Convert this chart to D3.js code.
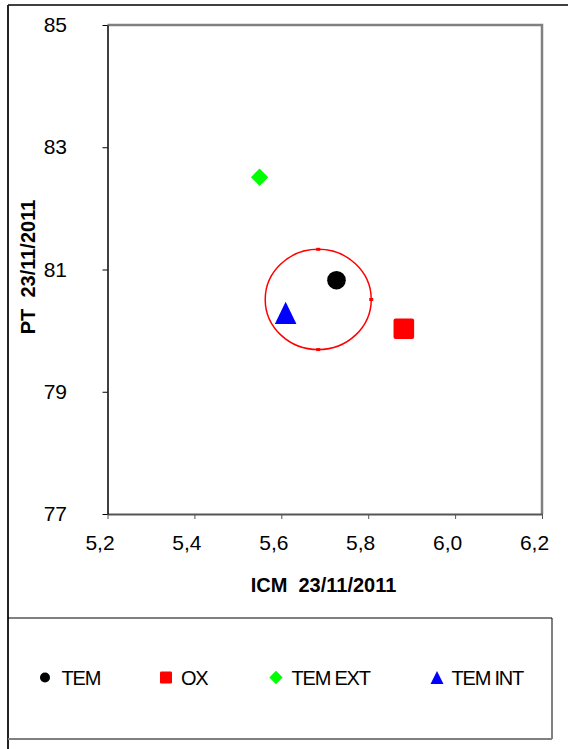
<!DOCTYPE html>
<html><head><meta charset="utf-8">
<script src="https://cdn.jsdelivr.net/npm/d3@7"></script>
<style>body{margin:0;background:#fff}svg{display:block;font-family:"Liberation Sans",Arial,sans-serif}</style>
</head><body><svg id="c" width="568" height="749"></svg>
<script>
const seriesNames = ["TEM", "OX", "TEM EXT", "TEM INT"];
const seriesX = [5.727, 5.882, 5.55, 5.61];
const seriesY = [80.825, 80.03, 82.51, 80.29];
const seriesColors = ["#000000", "#ff0000", "#00ff00", "#0000ff"];
const seriesShapes = ["circle", "square", "diamond", "triangle"];
const xTicks = [5.2, 5.4, 5.6, 5.8, 6.0, 6.2];
const yTicks = [77, 79, 81, 83, 85];
const ellipseCenter = [5.685, 80.51];
const ellipseRadius = [0.122, 0.82];
const xTitle = "ICM  23/11/2011";
const yTitle = "PT  23/11/2011";

const FF = '"Liberation Sans",Arial,sans-serif';
const svg = d3.select("#c");
const L = 107.5, R = 542, T = 25, B = 514;
const x = d3.scaleLinear().domain([5.2, 6.2]).range([L, R]);
const y = d3.scaleLinear().domain([77, 85]).range([B, T]);
const fmt = d => d3.format(".1f")(d).replace(".", ",");

// outer frame
svg.append("line").attr("x1", 8).attr("x2", 568).attr("y1", 5).attr("y2", 5).attr("stroke", "#000").attr("stroke-width", 1.5);
svg.append("line").attr("x1", 8).attr("x2", 8).attr("y1", 5).attr("y2", 749).attr("stroke", "#222").attr("stroke-width", 2);

// plot frame top/right (gray)
svg.append("path").attr("d", `M${L},${T}H${R}V${B}`).attr("fill", "none").attr("stroke", "#808080").attr("stroke-width", 2.5);

// axes
const gx = svg.append("g").attr("transform", `translate(0,${B})`)
  .call(d3.axisBottom(x).tickValues(xTicks).tickFormat(fmt).tickSize(5).tickSizeOuter(0));
gx.select(".domain").attr("stroke", "#555").attr("stroke-width", 2);
gx.selectAll(".tick line").attr("stroke", "#555");
gx.selectAll("text").attr("font-size", 21).attr("fill", "#000").attr("y", 36).attr("dy", 0).attr("x", -8).attr("font-family", FF);

const gy = svg.append("g").attr("transform", `translate(${L},0)`)
  .call(d3.axisLeft(y).tickValues(yTicks).tickFormat(d3.format("d")).tickSize(5).tickSizeOuter(0));
gy.select(".domain").attr("stroke", "#000").attr("stroke-width", 1.5);
gy.selectAll(".tick line").attr("stroke", "#000");
gy.selectAll("text").attr("font-size", 21).attr("fill", "#000").attr("x", -40.5).attr("font-family", FF);

// titles
svg.append("text").attr("x", 323.5).attr("y", 592).attr("text-anchor", "middle").style("white-space", "pre")
  .attr("font-size", 20).attr("font-weight", "bold").text(xTitle);
svg.append("text").attr("transform", `translate(35,267) rotate(-90)`).attr("text-anchor", "middle").style("white-space", "pre")
  .attr("font-size", 20).attr("font-weight", "bold").text(yTitle);

// ellipse
const ecx = x(ellipseCenter[0]), ecy = y(ellipseCenter[1]);
const erx = x(ellipseCenter[0] + ellipseRadius[0]) - ecx;
const ery = ecy - y(ellipseCenter[1] + ellipseRadius[1]);
svg.append("ellipse").attr("cx", ecx).attr("cy", ecy).attr("rx", erx).attr("ry", ery)
  .attr("fill", "none").attr("stroke", "#ff0000").attr("stroke-width", 1.5);
[[0, -1], [0, 1], [1, 0]].forEach(([a, b]) => {
  svg.append("rect").attr("x", ecx + a * erx - 2).attr("y", ecy + b * ery - 1.5).attr("width", 4).attr("height", 3).attr("fill", "#ff0000");
});

function drawMarker(g, shape, color, sx, sy) {
  if (shape === "square") {
    g.append("rect").attr("x", -sx).attr("y", -sy).attr("width", 2 * sx).attr("height", 2 * sy).attr("rx", sx * 0.2).attr("fill", color);
  } else if (shape === "circle") {
    g.append("circle").attr("r", sx).attr("fill", color);
  } else if (shape === "diamond") {
    g.append("path").attr("d", `M0,${-sy}L${sx},0L0,${sy}L${-sx},0Z`).attr("fill", color);
  } else {
    g.append("path").attr("d", `M0,${-sy}L${sx},${sy}L${-sx},${sy}Z`).attr("fill", color);
  }
}
const markerSizes = {circle: [9.3, 9.3], square: [10.3, 10.3], diamond: [8.7, 8.7], triangle: [10.8, 11.2]};
seriesNames.forEach((n, i) => {
  const g = svg.append("g").attr("transform", `translate(${x(seriesX[i])},${y(seriesY[i])})`);
  const s = markerSizes[seriesShapes[i]];
  drawMarker(g, seriesShapes[i], seriesColors[i], s[0], s[1]);
});

// legend
svg.append("line").attr("x1", 8).attr("x2", 552).attr("y1", 618).attr("y2", 618).attr("stroke", "#000").attr("stroke-width", 1);
svg.append("line").attr("x1", 552).attr("x2", 552).attr("y1", 618).attr("y2", 739).attr("stroke", "#000").attr("stroke-width", 1);
svg.append("line").attr("x1", 8).attr("x2", 552).attr("y1", 739).attr("y2", 739).attr("stroke", "#808080").attr("stroke-width", 2);
const legX = [45, 166, 276, 437];
const legTextX = [61.5, 181, 291.5, 451.5];
const legSizes = {circle: [5, 5], square: [6, 6], diamond: [6.7, 6.7], triangle: [6.5, 6.6]};
seriesNames.forEach((n, i) => {
  const g = svg.append("g").attr("transform", `translate(${legX[i]},677.5)`);
  const s = legSizes[seriesShapes[i]];
  drawMarker(g, seriesShapes[i], seriesColors[i], s[0], s[1]);
  svg.append("text").attr("x", legTextX[i]).attr("y", 685).attr("font-size", 20)
    .attr("letter-spacing", -1.2).text(n);
});
</script></body></html>
